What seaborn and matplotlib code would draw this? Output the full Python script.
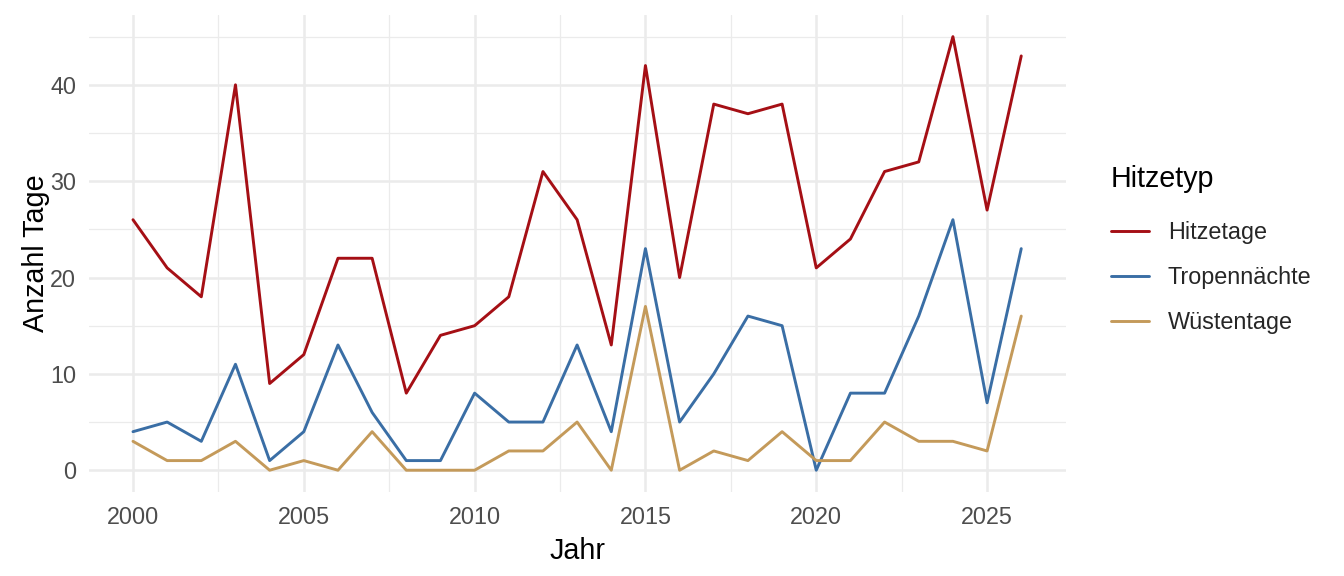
import numpy as np
import pandas as pd
import matplotlib
matplotlib.use("Agg")
import matplotlib.pyplot as plt
from matplotlib.ticker import MultipleLocator
import seaborn as sns

# Daten
JAHRE = list(range(2000, 2027))
HITZETAGE = [26, 21, 18, 40, 9, 12, 22, 22, 8, 14, 15, 18, 31, 26, 13, 42,
             20, 38, 37, 38, 21, 24, 31, 32, 45, 27, 43]
TROPENNAECHTE = [4, 5, 3, 11, 1, 4, 13, 6, 1, 1, 8, 5, 5, 13, 4, 23,
                 5, 10, 16, 15, 0, 8, 8, 16, 26, 7, 23]
WUESTENTAGE = [3, 1, 1, 3, 0, 1, 0, 4, 0, 0, 0, 2, 2, 5, 0, 17,
               0, 2, 1, 4, 1, 1, 5, 3, 3, 2, 16]
TYPEN = ["Hitzetage", "Tropennächte", "Wüstentage"]
FARBEN = ["#A50F15", "#3A6EA5", "#C49A5A"]

df = pd.DataFrame({
    "Jahr": JAHRE * 3,
    "Anzahl": HITZETAGE + TROPENNAECHTE + WUESTENTAGE,
    "Hitzetyp": [t for t in TYPEN for _ in JAHRE],
})

sns.set_theme(style="white")
plt.rcParams['font.family'] = ['Liberation Sans', 'DejaVu Sans']

fig, ax = plt.subplots(figsize=(13.44, 5.76), dpi=100)
fig.subplots_adjust(left=0.0659, right=0.7929, top=0.974, bottom=0.146)

sns.lineplot(data=df, x="Jahr", y="Anzahl", hue="Hitzetyp",
             palette=dict(zip(TYPEN, FARBEN)), hue_order=TYPEN,
             linewidth=2.1, ax=ax)

ax.set_xlim(2000 - 1.3, 2026 + 1.3)
ax.set_ylim(-2.25, 47.25)
ax.xaxis.set_major_locator(MultipleLocator(5))
ax.xaxis.set_minor_locator(MultipleLocator(2.5))
ax.yaxis.set_major_locator(MultipleLocator(10))
ax.yaxis.set_minor_locator(MultipleLocator(5))
ax.grid(which="major", color="#EBEBEB", linewidth=1.8)
ax.grid(which="minor", color="#EBEBEB", linewidth=0.9)
ax.set_axisbelow(True)
for s in ax.spines.values():
    s.set_visible(False)
ax.tick_params(axis="both", which="both", length=0, labelsize=16.8,
               labelcolor="#4D4D4D")
ax.tick_params(axis="x", pad=10)
ax.tick_params(axis="y", pad=9)

ax.set_xlabel("Jahr", fontsize=20.7, color="black", labelpad=6)
ax.set_ylabel("Anzahl Tage", fontsize=20.7, color="black", labelpad=0)

leg = ax.legend(title="Hitzetyp", loc="upper left",
                bbox_to_anchor=(1111 / 1344, 1 - 165 / 576),
                bbox_transform=fig.transFigure,
                frameon=False, fontsize=16.8, title_fontsize=20.7,
                handlelength=1.62, handletextpad=0.82, labelspacing=0.95,
                borderpad=0, borderaxespad=0, alignment="left")
leg._legend_box.sep = 20
leg.get_title().set_color("black")
for h in leg.get_lines():
    h.set_linewidth(2.1)

fig.savefig("out.png", dpi=100)
